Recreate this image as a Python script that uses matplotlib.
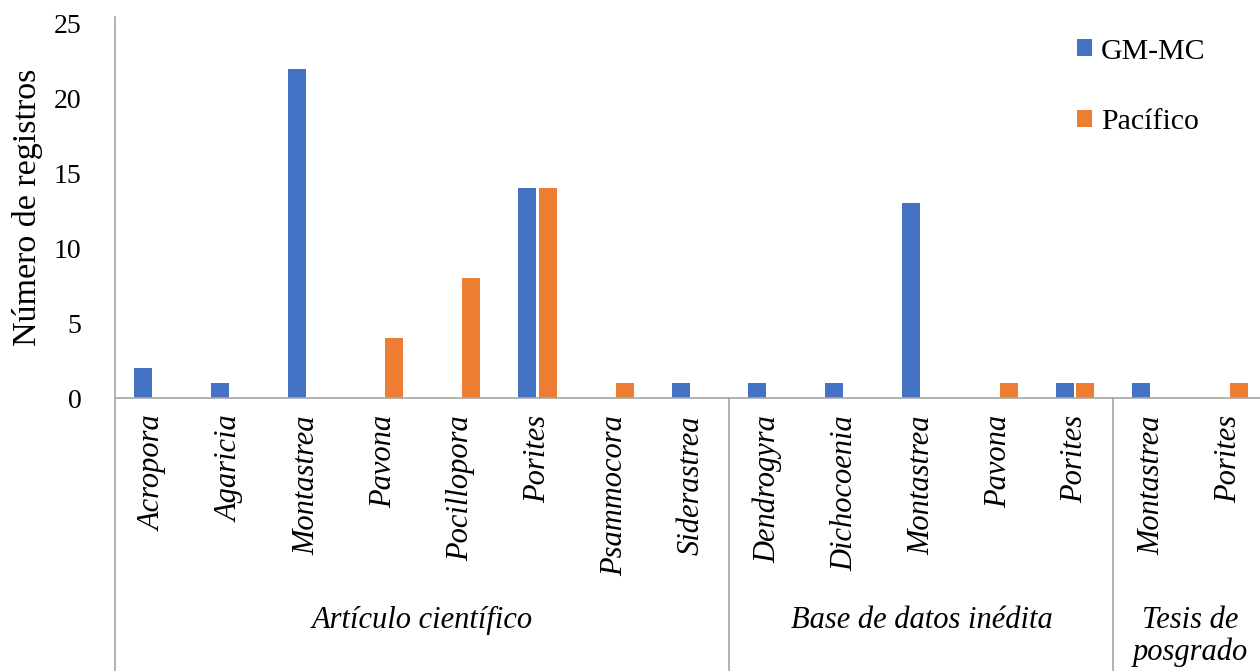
import matplotlib
matplotlib.use("Agg")
import matplotlib.pyplot as plt
from matplotlib.patches import Patch

# Data: records per genus, grouped by source type
genera = ["Acropora", "Agaricia", "Montastrea", "Pavona", "Pocillopora",
          "Porites", "Psammocora", "Siderastrea",
          "Dendrogyra", "Dichocoenia", "Montastrea", "Pavona", "Porites",
          "Montastrea", "Porites"]
gm_mc = [2, 1, 22, 0, 0, 14, 0, 1,
         1, 1, 13, 0, 1,
         1, 0]
pacifico = [0, 0, 0, 4, 8, 14, 1, 0,
            0, 0, 0, 1, 1,
            0, 1]
groups = ["Artículo científico", "Base de datos inédita", "Tesis de\nposgrado"]
group_sizes = [8, 5, 2]

BLUE = "#4472C4"
ORANGE = "#ED7D31"
GRID = "#A6A6A6"
SERIF = ["Liberation Serif", "DejaVu Serif"]

W, H = 1260, 671
fig = plt.figure(figsize=(W / 100, H / 100), dpi=100)
x0, x1 = 115, 1267
y0, y1 = 398, 17
ax = fig.add_axes([x0 / W, (H - y0) / H, (x1 - x0) / W, (y0 - y1) / H])

n = len(genera)
xs = list(range(n))
bw = 0.235
off = 0.135
ax.bar([x - off for x in xs], gm_mc, width=bw, color=BLUE, label="GM-MC")
ax.bar([x + off for x in xs], pacifico, width=bw, color=ORANGE, label="Pacífico")

ax.set_xlim(-0.5, n - 0.5)
ax.set_ylim(0, 25.45)
ax.set_yticks([0, 5, 10, 15, 20, 25])
ax.set_yticklabels(["0", "5", "10", "15", "20", "25"], fontfamily=SERIF, fontsize=20)
ax.tick_params(axis="y", length=0, pad=24)
ax.set_xticks([])

for s in ["top", "right"]:
    ax.spines[s].set_visible(False)
ax.spines["left"].set_color(GRID)
ax.spines["bottom"].set_color(GRID)
ax.spines["left"].set_linewidth(1.2)
ax.spines["bottom"].set_linewidth(1.2)

ax.set_ylabel("Número de registros", fontfamily=SERIF, fontsize=24.5, labelpad=8)

# Genus labels, rotated and italic
xt = ax.get_xaxis_transform()
for x, g in zip(xs, genera):
    ax.text(x, -0.045, g, transform=xt, rotation=90, ha="center", va="top",
            fontfamily=SERIF, style="italic", fontsize=22, clip_on=False)

# Group separators and group labels
ybottom = -(H - y0) / (y0 - y1)
start = 0
bounds = [-0.5]
for size in group_sizes:
    start += size
    bounds.append(start - 0.5)
for b in bounds[:-1]:
    ax.plot([b, b], [0, ybottom], transform=xt, color=GRID, lw=1.2,
            clip_on=False)
for i, g in enumerate(groups):
    cx = (bounds[i] + bounds[i + 1]) / 2
    ax.text(cx, -0.545, g, transform=xt, ha="center", va="top",
            fontfamily=SERIF, style="italic", fontsize=22, clip_on=False,
            linespacing=1.12)

handles = [Patch(facecolor=BLUE), Patch(facecolor=ORANGE)]
leg = ax.legend(handles, ["GM-MC", "Pacífico"], loc="upper left",
                bbox_to_anchor=((1050 - x0) / (x1 - x0), 1.014),
                frameon=False, prop={"family": SERIF, "size": 21.5},
                handlelength=0.5, handleheight=0.5, handletextpad=0.3,
                labelspacing=1.5)

fig.savefig("out.png", dpi=100)
